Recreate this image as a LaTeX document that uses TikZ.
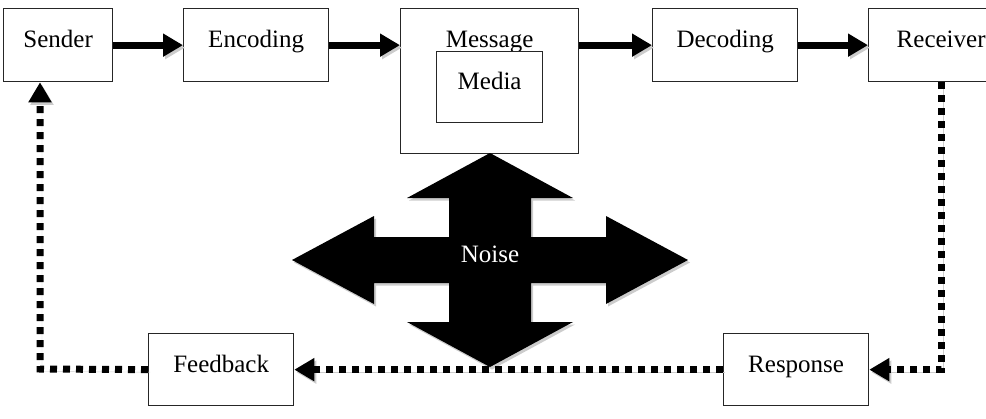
\documentclass[tikz,border=0pt]{standalone}
\usepackage{fontspec}
\setmainfont{Liberation Serif}
\usetikzlibrary{arrows.meta}

\begin{document}
\begin{tikzpicture}[x=1pt,y=-1pt,
  box/.style={draw=black!85,line width=1.3pt,fill=white,minimum width=145pt,
    minimum height=73pt,anchor=north west,inner sep=0pt,
    text height=17pt,text depth=12pt,font=\fontsize{25}{30}\selectfont},
  shade/.style={preaction={draw=black!20,transform canvas={shift={(2pt,-2.5pt)}}}},
  flow/.style={line width=7pt,-{Triangle[length=20pt,width=22pt]},shade},
  back/.style={line width=7pt,dash pattern=on 7pt off 6pt,
    -{Triangle[length=20pt,width=22pt]},shade}]

\useasboundingbox (0,0) rectangle (986,418) ;

% boxes
\node[box,minimum width=109pt] (sender) at (3,8) {Sender} ;
\node[box] (encoding) at (183,8) {Encoding} ;
\node[box,minimum width=178pt,minimum height=145pt] (message) at (400,8) {} ;
\node[anchor=base,font=\fontsize{25}{30}\selectfont] (msglabel) at ([yshift=-39pt]message.north) {Message} ;
\node[box,minimum width=106pt,minimum height=71pt] (media) at (436,51) {Media} ;
\node[box] (decoding) at (652,8) {Decoding} ;
\node[box] (receiver) at (868,8) {Receiver} ;
\node[box,minimum height=72pt] (feedback) at (148,333) {Feedback} ;
\node[box,minimum height=72pt] (response) at (723,333) {Response} ;

% forward
\draw[flow] (sender) -- (encoding) ;
\draw[flow] (encoding) -- (encoding.east -| message.west) ;
\draw[flow] (message.east |- decoding.west) -- (decoding) ;
\draw[flow] (decoding) -- (receiver) ;

% noise
\begin{scope}[shift={(490,260)}]

\fill[preaction={fill=black!20,transform canvas={shift={(2pt,-2.5pt)}}}]
  (0,-107) -- (83,-62) -- (41,-62) -- (41,-23) -- (116,-23) -- (116,-44)
  -- (198,0) -- (116,44) -- (116,23) -- (41,23) -- (41,62) -- (83,62)
  -- (0,107) -- (-83,62) -- (-41,62) -- (-41,23) -- (-116,23) -- (-116,44)
  -- (-198,0) -- (-116,-44) -- (-116,-23) -- (-41,-23) -- (-41,-62)
  -- (-83,-62) -- cycle ;

\node[anchor=base,text=white,font=\fontsize{25}{30}\selectfont] (noise) at (0,2) {Noise} ;

\end{scope}

% feedback loop
\coordinate (turn) at (40,369) ;

\draw[back] (receiver.south) |- (response.east) ;
\draw[back] (response) -- (feedback) ;
\draw[back] (feedback.west) -- (turn) -- (turn |- sender.south) ;

\end{tikzpicture}
\end{document}
